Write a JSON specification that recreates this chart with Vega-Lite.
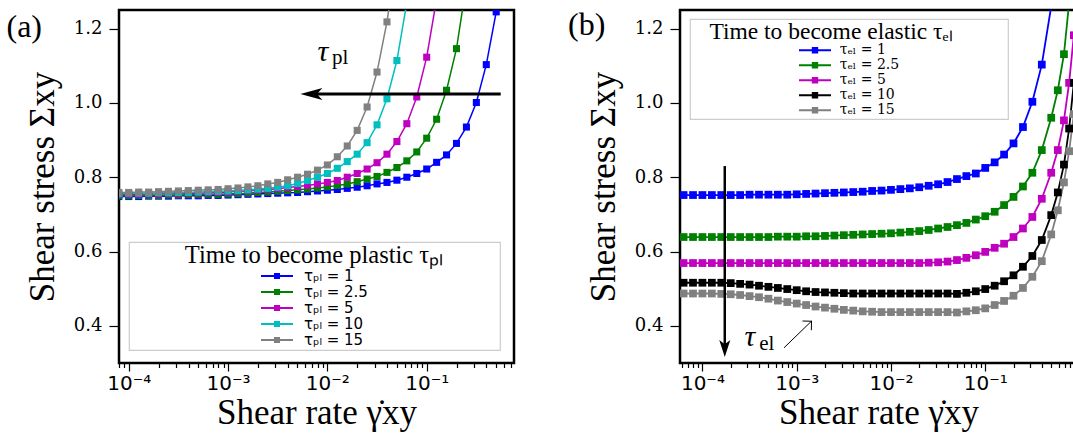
{
  "$schema": "https://vega.github.io/schema/vega-lite/v6.json",
  "background": "white",
  "padding": {"left": 5, "top": 7, "right": 0, "bottom": 0},
  "spacing": 166,
  "bounds": "flush",
  "resolve": {"scale": {"color": "independent"}, "legend": {"color": "independent"}},
  "config": {
    "view": {"stroke": "black", "strokeWidth": 2.5},
    "axis": {"domain": false, "grid": false, "tickColor": "black", "labelColor": "black", "titleColor": "black", "tickWidth": 1.2, "labelFlush": false, "labelOverlap": false, "labelBound": false, "titleFontWeight": "normal", "titleFont": "Liberation Serif", "titleFontSize": 35},
    "legend": {"strokeWidth": 1.2}
  },
  "datasets": {
    "a": [
      {"x": 0.000079433, "s1": 0.748, "s2": 0.750, "s3": 0.754, "s4": 0.756, "s5": 0.759},
      {"x": 0.0001, "s1": 0.748, "s2": 0.750, "s3": 0.754, "s4": 0.757, "s5": 0.759},
      {"x": 0.00012589, "s1": 0.748, "s2": 0.751, "s3": 0.754, "s4": 0.757, "s5": 0.760},
      {"x": 0.00015849, "s1": 0.749, "s2": 0.751, "s3": 0.755, "s4": 0.757, "s5": 0.760},
      {"x": 0.00019953, "s1": 0.749, "s2": 0.751, "s3": 0.755, "s4": 0.758, "s5": 0.761},
      {"x": 0.00025119, "s1": 0.749, "s2": 0.752, "s3": 0.756, "s4": 0.758, "s5": 0.762},
      {"x": 0.00031623, "s1": 0.750, "s2": 0.752, "s3": 0.756, "s4": 0.759, "s5": 0.763},
      {"x": 0.00039811, "s1": 0.750, "s2": 0.753, "s3": 0.757, "s4": 0.759, "s5": 0.764},
      {"x": 0.00050119, "s1": 0.750, "s2": 0.753, "s3": 0.757, "s4": 0.760, "s5": 0.765},
      {"x": 0.00063096, "s1": 0.751, "s2": 0.754, "s3": 0.758, "s4": 0.761, "s5": 0.766},
      {"x": 0.00079433, "s1": 0.751, "s2": 0.754, "s3": 0.759, "s4": 0.762, "s5": 0.767},
      {"x": 0.001, "s1": 0.752, "s2": 0.755, "s3": 0.760, "s4": 0.763, "s5": 0.769},
      {"x": 0.0012589, "s1": 0.753, "s2": 0.756, "s3": 0.762, "s4": 0.764, "s5": 0.771},
      {"x": 0.0015849, "s1": 0.754, "s2": 0.757, "s3": 0.763, "s4": 0.766, "s5": 0.774},
      {"x": 0.0019953, "s1": 0.755, "s2": 0.759, "s3": 0.765, "s4": 0.768, "s5": 0.777},
      {"x": 0.0025119, "s1": 0.756, "s2": 0.760, "s3": 0.767, "s4": 0.770, "s5": 0.782},
      {"x": 0.0031623, "s1": 0.757, "s2": 0.762, "s3": 0.769, "s4": 0.773, "s5": 0.786},
      {"x": 0.0039811, "s1": 0.758, "s2": 0.764, "s3": 0.772, "s4": 0.777, "s5": 0.793},
      {"x": 0.0050119, "s1": 0.759, "s2": 0.766, "s3": 0.775, "s4": 0.783, "s5": 0.800},
      {"x": 0.0063096, "s1": 0.761, "s2": 0.768, "s3": 0.778, "s4": 0.791, "s5": 0.808},
      {"x": 0.0079433, "s1": 0.763, "s2": 0.771, "s3": 0.782, "s4": 0.800, "s5": 0.819},
      {"x": 0.01, "s1": 0.765, "s2": 0.774, "s3": 0.786, "s4": 0.810, "s5": 0.833},
      {"x": 0.012589, "s1": 0.767, "s2": 0.778, "s3": 0.791, "s4": 0.824, "s5": 0.855},
      {"x": 0.015849, "s1": 0.770, "s2": 0.782, "s3": 0.800, "s4": 0.842, "s5": 0.884},
      {"x": 0.019953, "s1": 0.773, "s2": 0.788, "s3": 0.810, "s4": 0.862, "s5": 0.926},
      {"x": 0.025119, "s1": 0.777, "s2": 0.795, "s3": 0.822, "s4": 0.893, "s5": 0.989},
      {"x": 0.031623, "s1": 0.782, "s2": 0.802, "s3": 0.839, "s4": 0.941, "s5": 1.083},
      {"x": 0.039811, "s1": 0.786, "s2": 0.813, "s3": 0.862, "s4": 1.011, "s5": 1.218},
      {"x": 0.050119, "s1": 0.792, "s2": 0.826, "s3": 0.896, "s4": 1.114, "s5": 1.40},
      {"x": 0.063096, "s1": 0.800, "s2": 0.844, "s3": 0.944, "s4": 1.27},
      {"x": 0.079433, "s1": 0.810, "s2": 0.868, "s3": 1.016},
      {"x": 0.1, "s1": 0.822, "s2": 0.905, "s3": 1.123},
      {"x": 0.12589, "s1": 0.840, "s2": 0.956, "s3": 1.28},
      {"x": 0.15849, "s1": 0.860, "s2": 1.034},
      {"x": 0.19953, "s1": 0.891, "s2": 1.146},
      {"x": 0.25119, "s1": 0.935, "s2": 1.32},
      {"x": 0.31623, "s1": 1.001},
      {"x": 0.39811, "s1": 1.103},
      {"x": 0.50119, "s1": 1.245},
      {"x": 0.63096, "s1": 1.45}
    ],
    "b": [
      {"x": 0.000050119, "s1": 0.752, "s2": 0.639, "s3": 0.569, "s4": 0.516, "s5": 0.487},
      {"x": 0.000063096, "s1": 0.752, "s2": 0.639, "s3": 0.569, "s4": 0.516, "s5": 0.487},
      {"x": 0.000079433, "s1": 0.752, "s2": 0.639, "s3": 0.569, "s4": 0.516, "s5": 0.487},
      {"x": 0.0001, "s1": 0.752, "s2": 0.639, "s3": 0.569, "s4": 0.516, "s5": 0.487},
      {"x": 0.00012589, "s1": 0.752, "s2": 0.639, "s3": 0.569, "s4": 0.516, "s5": 0.487},
      {"x": 0.00015849, "s1": 0.752, "s2": 0.639, "s3": 0.569, "s4": 0.516, "s5": 0.486},
      {"x": 0.00019953, "s1": 0.752, "s2": 0.639, "s3": 0.569, "s4": 0.515, "s5": 0.485},
      {"x": 0.00025119, "s1": 0.752, "s2": 0.639, "s3": 0.569, "s4": 0.513, "s5": 0.483},
      {"x": 0.00031623, "s1": 0.753, "s2": 0.639, "s3": 0.569, "s4": 0.511, "s5": 0.480},
      {"x": 0.00039811, "s1": 0.753, "s2": 0.639, "s3": 0.569, "s4": 0.508, "s5": 0.477},
      {"x": 0.00050119, "s1": 0.753, "s2": 0.639, "s3": 0.569, "s4": 0.505, "s5": 0.473},
      {"x": 0.00063096, "s1": 0.753, "s2": 0.640, "s3": 0.569, "s4": 0.502, "s5": 0.468},
      {"x": 0.00079433, "s1": 0.753, "s2": 0.640, "s3": 0.569, "s4": 0.499, "s5": 0.464},
      {"x": 0.001, "s1": 0.754, "s2": 0.640, "s3": 0.569, "s4": 0.496, "s5": 0.460},
      {"x": 0.0012589, "s1": 0.755, "s2": 0.641, "s3": 0.569, "s4": 0.493, "s5": 0.456},
      {"x": 0.0015849, "s1": 0.756, "s2": 0.641, "s3": 0.569, "s4": 0.491, "s5": 0.452},
      {"x": 0.0019953, "s1": 0.757, "s2": 0.642, "s3": 0.569, "s4": 0.490, "s5": 0.449},
      {"x": 0.0025119, "s1": 0.758, "s2": 0.643, "s3": 0.569, "s4": 0.489, "s5": 0.446},
      {"x": 0.0031623, "s1": 0.759, "s2": 0.644, "s3": 0.569, "s4": 0.488, "s5": 0.443},
      {"x": 0.0039811, "s1": 0.760, "s2": 0.645, "s3": 0.569, "s4": 0.487, "s5": 0.441},
      {"x": 0.0050119, "s1": 0.761, "s2": 0.646, "s3": 0.569, "s4": 0.487, "s5": 0.439},
      {"x": 0.0063096, "s1": 0.763, "s2": 0.647, "s3": 0.569, "s4": 0.487, "s5": 0.438},
      {"x": 0.0079433, "s1": 0.764, "s2": 0.648, "s3": 0.569, "s4": 0.487, "s5": 0.437},
      {"x": 0.01, "s1": 0.766, "s2": 0.649, "s3": 0.569, "s4": 0.487, "s5": 0.437},
      {"x": 0.012589, "s1": 0.768, "s2": 0.651, "s3": 0.569, "s4": 0.487, "s5": 0.437},
      {"x": 0.015849, "s1": 0.770, "s2": 0.653, "s3": 0.569, "s4": 0.487, "s5": 0.437},
      {"x": 0.019953, "s1": 0.773, "s2": 0.655, "s3": 0.569, "s4": 0.487, "s5": 0.437},
      {"x": 0.025119, "s1": 0.777, "s2": 0.658, "s3": 0.570, "s4": 0.487, "s5": 0.437},
      {"x": 0.031623, "s1": 0.781, "s2": 0.662, "s3": 0.571, "s4": 0.487, "s5": 0.437},
      {"x": 0.039811, "s1": 0.787, "s2": 0.666, "s3": 0.573, "s4": 0.487, "s5": 0.437},
      {"x": 0.050119, "s1": 0.795, "s2": 0.671, "s3": 0.577, "s4": 0.486, "s5": 0.436},
      {"x": 0.063096, "s1": 0.803, "s2": 0.677, "s3": 0.583, "s4": 0.489, "s5": 0.439},
      {"x": 0.079433, "s1": 0.810, "s2": 0.686, "s3": 0.590, "s4": 0.493, "s5": 0.442},
      {"x": 0.1, "s1": 0.825, "s2": 0.695, "s3": 0.599, "s4": 0.499, "s5": 0.447},
      {"x": 0.12589, "s1": 0.840, "s2": 0.707, "s3": 0.610, "s4": 0.508, "s5": 0.456},
      {"x": 0.15849, "s1": 0.861, "s2": 0.725, "s3": 0.621, "s4": 0.520, "s5": 0.467},
      {"x": 0.19953, "s1": 0.891, "s2": 0.747, "s3": 0.639, "s4": 0.536, "s5": 0.481},
      {"x": 0.25119, "s1": 0.935, "s2": 0.775, "s3": 0.662, "s4": 0.559, "s5": 0.502},
      {"x": 0.31623, "s1": 1.003, "s2": 0.812, "s3": 0.693, "s4": 0.588, "s5": 0.532},
      {"x": 0.39811, "s1": 1.103, "s2": 0.873, "s3": 0.742, "s4": 0.631, "s5": 0.574},
      {"x": 0.50119, "s1": 1.26, "s2": 0.960, "s3": 0.812, "s4": 0.698, "s5": 0.646},
      {"x": 0.58884, "s2": 1.034, "s3": 0.873, "s4": 0.759, "s5": 0.711},
      {"x": 0.68391, "s2": 1.131, "s3": 0.953, "s4": 0.834, "s5": 0.786},
      {"x": 0.77625, "s2": 1.27, "s3": 1.054, "s4": 0.931, "s5": 0.870},
      {"x": 0.87096, "s3": 1.182, "s4": 1.054, "s5": 0.97},
      {"x": 1.0, "s3": 1.35, "s4": 1.22, "s5": 1.12},
      {"x": 1.122, "s4": 1.40, "s5": 1.30}
    ]
  },
  "hconcat": [
    {
      "width": 395,
      "height": 353,
      "encoding": {
        "x": {"field": "x", "type": "quantitative",
          "scale": {"type": "log", "domain": [0.0000798, 0.7568], "nice": false},
          "axis": {"title": "Shear rate γ̇xy",
            "values": [0.00008, 0.00009, 0.0001, 0.0002, 0.0003, 0.0004, 0.0005, 0.0006, 0.0007, 0.0008, 0.0009, 0.001, 0.002, 0.003, 0.004, 0.005, 0.006, 0.007, 0.008, 0.009, 0.01, 0.02, 0.03, 0.04, 0.05, 0.06, 0.07, 0.08, 0.09, 0.1, 0.2, 0.3, 0.4, 0.5, 0.6, 0.7],
            "labelExpr": "abs(log(datum.value)/LN10 - round(log(datum.value)/LN10)) > 0.000001 ? '' : round(log(datum.value)/LN10) == -4 ? '10⁻⁴' : round(log(datum.value)/LN10) == -3 ? '10⁻³' : round(log(datum.value)/LN10) == -2 ? '10⁻²' : round(log(datum.value)/LN10) == -1 ? '10⁻¹' : '10⁰'",
            "tickSize": {"condition": {"test": "abs(log(datum.value)/LN10 - round(log(datum.value)/LN10)) < 0.000001", "value": 8}, "value": 4.5},
            "labelFont": "DejaVu Sans", "labelFontSize": 20, "labelPadding": 2, "titlePadding": 2}},
        "y": {"field": "y", "type": "quantitative",
          "scale": {"domain": [0.3, 1.25], "nice": false, "zero": false},
          "axis": {"title": "Shear stress Σxy", "values": [0.4, 0.6, 0.8, 1.0, 1.2], "format": ".1f", "labelFont": "DejaVu Serif", "labelFontSize": 18, "tickSize": 10, "labelPadding": 7, "titlePadding": 13}}
      },
      "layer": [
        {
          "data": {"name": "a"},
          "transform": [{"fold": ["s1", "s2", "s3", "s4", "s5"], "as": ["series", "y"]}],
          "encoding": {
            "color": {"field": "series", "type": "nominal",
              "scale": {"domain": ["s1", "s2", "s3", "s4", "s5"], "range": ["#0000ff", "#008000", "#bf00bf", "#00bfbf", "#808080"]},
              "legend": {"orient": "none", "legendX": 10, "legendY": 232, "direction": "vertical",
                "title": "\u2800\u2800\u2800Time to become plastic τₚₗ\u2800\u2800\u2800",
                "titleFont": "Liberation Serif", "titleFontSize": 24.5, "titleFontWeight": "normal", "titleColor": "black", "titleAnchor": "middle", "titlePadding": 0, "titleLimit": 1000,
                "labelFont": "DejaVu Sans", "labelFontSize": 15, "labelColor": "black", "labelOffset": 11,
                "labelExpr": "datum.label == 's1' ? 'τₚₗ = 1' : datum.label == 's2' ? 'τₚₗ = 2.5' : datum.label == 's3' ? 'τₚₗ = 5' : datum.label == 's4' ? 'τₚₗ = 10' : 'τₚₗ = 15'",
                "symbolType": "M-1,-0.065H1V0.065H-1ZM-0.19,-0.19H0.19V0.19H-0.19Z", "symbolSize": 1024, "symbolStrokeWidth": 0, "symbolOffset": 0,
                "clipHeight": 15, "rowPadding": 0, "padding": 2, "strokeColor": "#cccccc", "fillColor": "white"}}
          },
          "layer": [
            {"mark": {"type": "line", "clip": true, "strokeWidth": 1.5}},
            {"mark": {"type": "point", "shape": "square", "filled": true, "size": 50, "opacity": 1, "clip": true}}
          ]
        },
        {"data": {"values": [{"x": 0.556, "x2": 0.0065, "y": 1.024}]}, "mark": {"type": "rule", "color": "black", "strokeWidth": 3}, "encoding": {"x2": {"field": "x2"}}},
        {"data": {"values": [{"x": 0.00535, "y": 1.024}]}, "mark": {"type": "point", "shape": "M0,0L2,-0.55L1.5,0L2,0.55Z", "size": 484, "filled": true, "color": "black", "opacity": 1, "strokeWidth": 0}},
        {"data": {"values": [{"x": 0.009, "y": 1.137}]}, "mark": {"type": "text", "text": "τ", "font": "Liberation Serif", "fontStyle": "italic", "fontSize": 30, "color": "black"}},
        {"data": {"values": [{"x": 0.01343, "y": 1.121}]}, "mark": {"type": "text", "text": "pl", "font": "Liberation Serif", "fontSize": 21, "color": "black"}},
        {"data": {"values": [{"x": 0.00000887, "y": 1.205}]}, "mark": {"type": "text", "text": "(a)", "font": "Liberation Serif", "fontSize": 32, "color": "black"}}
      ]
    },
    {
      "width": 397,
      "height": 353,
      "encoding": {
        "x": {"field": "x", "type": "quantitative",
          "scale": {"type": "log", "domain": [0.00005781, 0.9408], "nice": false},
          "axis": {"title": "Shear rate γ̇xy",
            "values": [0.00006, 0.00007, 0.00008, 0.00009, 0.0001, 0.0002, 0.0003, 0.0004, 0.0005, 0.0006, 0.0007, 0.0008, 0.0009, 0.001, 0.002, 0.003, 0.004, 0.005, 0.006, 0.007, 0.008, 0.009, 0.01, 0.02, 0.03, 0.04, 0.05, 0.06, 0.07, 0.08, 0.09, 0.1, 0.2, 0.3, 0.4, 0.5, 0.6, 0.7, 0.8, 0.9],
            "labelExpr": "abs(log(datum.value)/LN10 - round(log(datum.value)/LN10)) > 0.000001 ? '' : round(log(datum.value)/LN10) == -4 ? '10⁻⁴' : round(log(datum.value)/LN10) == -3 ? '10⁻³' : round(log(datum.value)/LN10) == -2 ? '10⁻²' : round(log(datum.value)/LN10) == -1 ? '10⁻¹' : '10⁰'",
            "tickSize": {"condition": {"test": "abs(log(datum.value)/LN10 - round(log(datum.value)/LN10)) < 0.000001", "value": 8}, "value": 4.5},
            "labelFont": "DejaVu Sans", "labelFontSize": 20, "labelPadding": 2, "titlePadding": 2}},
        "y": {"field": "y", "type": "quantitative",
          "scale": {"domain": [0.3, 1.25], "nice": false, "zero": false},
          "axis": {"title": "Shear stress Σxy", "values": [0.4, 0.6, 0.8, 1.0, 1.2], "format": ".1f", "labelFont": "DejaVu Serif", "labelFontSize": 18, "tickSize": 10, "labelPadding": 7, "titlePadding": 13}}
      },
      "layer": [
        {
          "data": {"name": "b"},
          "transform": [{"fold": ["s1", "s2", "s3", "s4", "s5"], "as": ["series", "y"]}],
          "encoding": {
            "color": {"field": "series", "type": "nominal",
              "scale": {"domain": ["s1", "s2", "s3", "s4", "s5"], "range": ["#0000ff", "#008000", "#bf00bf", "#000000", "#808080"]},
              "legend": {"orient": "none", "legendX": 10, "legendY": 9, "direction": "vertical",
                "title": "\u2800Time to become elastic τₑₗ\u2800\u2800\u2800",
                "titleFont": "Liberation Serif", "titleFontSize": 23.5, "titleFontWeight": "normal", "titleColor": "black", "titleAnchor": "middle", "titlePadding": 0, "titleLimit": 1000,
                "labelFont": "DejaVu Serif", "labelFontSize": 14, "labelColor": "black", "labelOffset": 8.7,
                "labelExpr": "datum.label == 's1' ? 'τₑₗ = 1' : datum.label == 's2' ? 'τₑₗ = 2.5' : datum.label == 's3' ? 'τₑₗ = 5' : datum.label == 's4' ? 'τₑₗ = 10' : 'τₑₗ = 15'",
                "symbolType": "M-1,-0.07H1V0.07H-1ZM-0.2,-0.2H0.2V0.2H-0.2Z", "symbolSize": 1024, "symbolStrokeWidth": 0, "symbolOffset": 0,
                "clipHeight": 13.5, "rowPadding": 0, "padding": 1, "strokeColor": "#cccccc", "fillColor": "white"}}
          },
          "layer": [
            {"mark": {"type": "line", "clip": true, "strokeWidth": 1.8}},
            {"mark": {"type": "point", "shape": "square", "filled": true, "size": 60, "opacity": 1, "clip": true}}
          ]
        },
        {"data": {"values": [{"x": 0.0001726, "y": 0.830, "y2": 0.340}]}, "mark": {"type": "rule", "color": "black", "strokeWidth": 2.5}, "encoding": {"y2": {"field": "y2"}}},
        {"data": {"values": [{"x": 0.0001726, "y": 0.316}]}, "mark": {"type": "point", "shape": "M0,0L-0.65,-2L0,-1.5L0.65,-2Z", "size": 289, "filled": true, "color": "black", "opacity": 1, "strokeWidth": 0}},
        {"data": {"values": [{"x": 0.000734, "y": 0.341, "x2": 0.001435, "y2": 0.4126}]}, "mark": {"type": "rule", "color": "black", "strokeWidth": 1}, "encoding": {"x2": {"field": "x2"}, "y2": {"field": "y2"}}},
        {"data": {"values": [{"x": 0.001435, "y": 0.4126}]}, "mark": {"type": "point", "shape": "M-1,-1L0,0L-1,1", "size": 162, "filled": false, "color": "black", "opacity": 1, "strokeWidth": 1, "angle": -44}},
        {"data": {"values": [{"x": 0.000318, "y": 0.370}]}, "mark": {"type": "text", "text": "τ", "font": "Liberation Serif", "fontStyle": "italic", "fontSize": 30, "color": "black"}},
        {"data": {"values": [{"x": 0.000482, "y": 0.351}]}, "mark": {"type": "text", "text": "el", "font": "Liberation Serif", "fontSize": 21, "color": "black"}},
        {"data": {"values": [{"x": 0.00000592, "y": 1.21}]}, "mark": {"type": "text", "text": "(b)", "font": "Liberation Serif", "fontSize": 32, "color": "black"}}
      ]
    }
  ]
}
